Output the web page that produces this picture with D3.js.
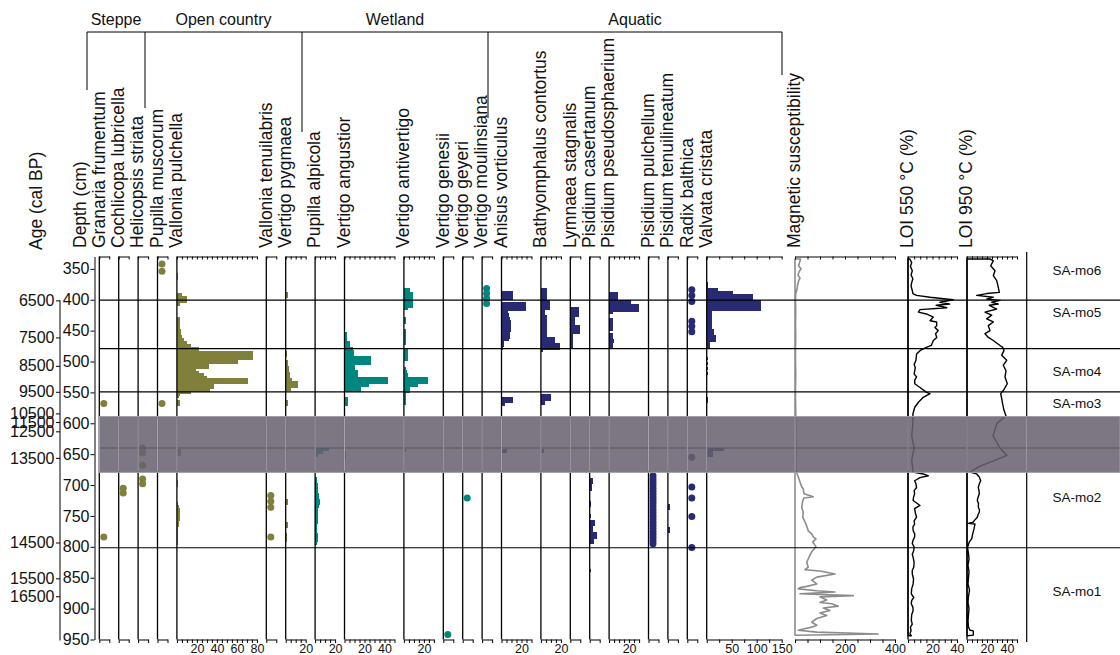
<!DOCTYPE html>
<html>
<head>
<meta charset="utf-8">
<script src="https://cdn.jsdelivr.net/npm/d3@7"></script>
<style>
  body { margin: 0; background: #fff; }
  text { font-family: "Liberation Sans", Arial, sans-serif; fill: #111; }
</style>
</head>
<body>
<div id="chart"></div>
<script>
// ---- data (depth in cm, values in % or counts) ----
var depthTicks = [350, 400, 450, 500, 550, 600, 650, 700, 750, 800, 850, 900, 950];
var ageLabels = ["6500", "7500", "8500", "9500", "10500", "11500", "12500", "13500", "14500", "15500", "16500"];
var ageDepths = [401, 461, 507, 549, 584, 598, 613, 656, 793, 851, 880];

var zoneBounds = [400.5, 479, 549, 640, 801.5];
var zoneNames = ["SA-mo6", "SA-mo5", "SA-mo4", "SA-mo3", "SA-mo2", "SA-mo1"];
var zoneLabelDepths = [352, 421, 515, 568, 720, 872];
var hiatus = [589, 679.5];

var groupNames = ["Steppe", "Open country", "Wetland", "Aquatic"];

// presence dots: depths only
var granariaFrumentum = [568, 784];
var cochlicopaLubricella = [705, 713];
var helicopsisStriata = [640, 648, 668, 690, 698];
var pupillaMuscorum = [342, 354, 568];
var valloniaTenuilabris = [717, 726, 736, 784];
var vertigoGenesii = [942];
var vertigoGeyeri = [721];
var vertigoMoulinsiana = [382, 390, 398, 406];
var pisidiumPulchellum = [685, 690, 695, 700, 705, 710, 715, 720, 725, 730, 735, 740, 745, 750, 755, 760, 765, 770, 775, 780, 785, 790, 795];
var radixBalthica = [384, 393, 403, 435, 443, 452, 655, 703, 721, 751, 801];

// bars: [depth, value]
var valloniaPulchella = [[360, 1.5], [365, 1.5], [392, 5], [397, 10], [402, 10], [407, 3], [430, 3], [435, 3], [440, 3],
  [445, 3], [450, 4], [455, 4], [460, 5], [465, 7], [470, 10], [475, 14], [480, 22], [485, 76], [490, 76], [494, 76],
  [498, 61], [502, 61], [506, 32], [510, 32], [514, 19], [518, 22], [522, 27], [526, 30], [530, 71], [534, 71],
  [538, 37], [542, 37], [546, 33], [549, 14], [553, 3], [557, 2], [565, 3.5], [570, 3.5], [645, 4], [650, 4],
  [695, 1.5], [700, 1.5], [730, 1.5], [735, 2], [740, 3.5], [745, 3.5], [750, 3.5], [755, 3.5], [760, 2], [765, 2],
  [770, 1.5], [775, 1.5], [780, 1.5], [785, 1.5], [790, 1.5], [795, 1.5]];
var vertigoPygmaea = [[390, 2.5], [395, 2.5], [485, 1.5], [490, 1.5], [500, 2], [505, 2.5], [510, 3], [515, 3.5],
  [520, 4], [525, 4.5], [530, 6], [535, 12.5], [540, 12.5], [545, 5], [565, 2], [570, 2], [642, 1], [725, 2.5],
  [730, 2.5], [762, 2], [767, 2], [780, 1.5], [785, 1.5], [790, 1.5]];
var pupillaAlpicola = [[642, 14], [647, 8], [652, 3], [690, 2], [695, 2], [700, 2.5], [705, 2.5], [710, 3], [715, 3.5],
  [720, 4], [725, 5], [730, 5], [735, 4], [740, 3], [745, 2.5], [750, 2.5], [755, 2.5], [760, 2.5], [765, 2],
  [770, 2], [775, 2], [780, 2.5], [785, 3], [790, 3], [795, 2]];
var vertigoAngustior = [[455, 2.3], [460, 2.3], [465, 2.3], [470, 5], [475, 5], [479, 8], [484, 9], [489, 9],
  [494, 26], [499, 26], [503, 26], [507, 10.7], [512, 10.7], [517, 13], [522, 13], [528, 43], [533, 43], [538, 24],
  [543, 16], [546, 16], [560, 3], [565, 3], [570, 3], [650, 1.5], [655, 1.5]];
var vertigoAntivertigo = [[384, 5.7], [390, 9], [395, 9], [400, 9], [405, 9], [410, 9], [414, 4], [430, 1.7], [436, 1.7],
  [450, 2.4], [455, 2.4], [460, 2.4], [465, 2.4], [470, 2.4], [482, 4], [487, 4], [492, 4], [497, 4], [512, 2],
  [517, 3], [522, 4], [528, 24], [533, 24], [538, 14], [544, 5.7], [548, 5.7], [553, 1.7], [558, 1.7], [563, 1.7],
  [568, 1.7], [643, 2]];
var anisusVorticulus = [[388, 11], [393, 11], [398, 11], [406, 24.3], [411, 24.3], [415, 24.3], [420, 6.7], [425, 7],
  [430, 8.3], [435, 9], [440, 9.5], [445, 9.5], [450, 9], [455, 8.3], [460, 8], [464, 7], [469, 2.3], [474, 2.3],
  [479, 1.5], [560, 11], [564, 11], [569, 3], [645, 5]];
var bathyomphalusContortus = [[384, 6], [389, 6], [394, 6], [398, 6], [403, 9.4], [408, 9.4], [413, 9.4], [418, 3.7],
  [423, 3.7], [428, 6], [433, 6], [438, 6], [443, 6], [448, 6], [453, 6], [458, 6], [463, 13.7], [468, 13.7],
  [473, 18.7], [478, 18.7], [481, 2], [556, 10.4], [561, 10.4], [567, 3.7], [645, 3]];
var lymnaeaStagnalis = [[385, 1], [390, 1], [395, 1], [400, 1], [405, 1], [415, 9], [420, 9], [425, 9], [430, 4.7],
  [435, 4.7], [440, 4.7], [444, 9.7], [449, 9.7], [453, 9.7], [457, 3], [461, 3], [465, 2.4], [470, 2.4], [475, 2.4],
  [488, 1], [496, 1], [504, 1], [511, 1]];
var pisidiumCasertanum = [[692, 3.7], [696, 3.7], [701, 2.3], [706, 2.3], [729, 1.3], [733, 1.3], [750, 1], [759, 5.7],
  [764, 5.7], [769, 3.7], [774, 3.7], [779, 7], [784, 7], [788, 4.5], [792, 4.5], [838, 1]];
var pisidiumPseudosphaerium = [[390, 9], [395, 9], [400, 9], [404, 21.4], [409, 30], [413, 30], [417, 30], [420, 4],
  [433, 3.4], [438, 3.4], [443, 3.4], [447, 3.4], [457, 4], [462, 4], [467, 4.5], [472, 4], [477, 3.5]];
var pisidiumTenuilineatum = [[733, 2.5], [737, 2.5], [770, 2.5], [774, 2.5]];
var valvataCristata = [[374, 2], [378, 2], [383, 23], [388, 53], [393, 92], [398, 92], [403, 108], [408, 108],
  [413, 108], [416, 108], [420, 10], [425, 10], [430, 11], [435, 11], [440, 11], [445, 11], [450, 14.7], [455, 14.7],
  [460, 19.3], [465, 19.3], [471, 7.3], [476, 7.3], [495, 2], [503, 2], [511, 2], [519, 2], [560, 2.7], [565, 2.7],
  [642, 35], [648, 12], [652, 12]];

// continuous curves: [depth, value]
var magSus = [[334, 22], [340, 18], [345, 14], [350, 24], [355, 16], [360, 12], [365, 20], [370, 14], [377, 10],
  [383, 8], [390, 3], [400, 2], [420, 3], [440, 2], [460, 3], [480, 2], [500, 2], [520, 3], [540, 2], [560, 2],
  [580, 3], [600, 4], [620, 3], [640, 5], [660, 3], [675, 4], [680, 7], [687, 13], [695, 20], [703, 27], [706, 33],
  [714, 36], [719, 73], [721, 36], [725, 31], [736, 27], [744, 33], [752, 31], [763, 44], [774, 53], [779, 67],
  [784, 73], [787, 84], [792, 71], [800, 84], [808, 67], [816, 57], [825, 47], [833, 53], [837, 40], [839, 100],
  [844, 160], [849, 87], [854, 67], [860, 87], [864, 47], [866, 20], [868, 13], [871, 87], [873, 160], [876, 20],
  [879, 233], [881, 100], [886, 127], [890, 100], [892, 147], [896, 173], [899, 113], [903, 140], [907, 100],
  [911, 127], [916, 87], [922, 67], [927, 87], [930, 67], [933, 33], [935, 13], [938, 87], [941, 333], [943, 7]];
var loi550 = [[334, 1.5], [340, 3], [346, 2], [353, 3.5], [360, 2.5], [366, 4], [372, 3], [378, 2.5], [385, 3.5],
  [390, 4], [393, 7], [396, 18], [400, 37], [404, 26], [407, 34], [409, 23], [413, 31.6], [416, 9.8], [420, 8.5],
  [423, 15], [428, 20.7], [434, 18], [436, 23.4], [442, 23.4], [445, 22], [450, 24.7], [455, 22.5], [461, 23.5],
  [466, 20.7], [474, 19], [477, 15], [482, 10], [488, 7], [498, 6.5], [505, 5], [510, 6], [515, 5.5], [520, 5],
  [525, 7], [530, 5.5], [536, 5.5], [542, 9.8], [550, 15.2], [552, 18], [558, 12.5], [566, 8.5], [574, 5.5],
  [585, 4], [600, 4], [620, 3], [640, 5], [660, 3], [675, 4], [679, 4], [682, 12.5], [685, 16.6], [688, 9.8],
  [693, 5.4], [698, 6.5], [704, 7], [709, 5], [714, 5.4], [720, 4.5], [725, 4.2], [729, 7], [733, 9.8], [738, 5.4],
  [745, 6], [752, 7], [758, 5], [763, 5.4], [768, 4], [774, 4.2], [779, 5.5], [784, 5.4], [790, 4], [795, 3.5],
  [800, 5], [806, 4.7], [812, 3.5], [817, 4.2], [825, 5], [833, 4.7], [838, 3.5], [844, 3.5], [852, 4.5], [860, 4.2],
  [868, 3], [876, 2.7], [882, 4.7], [887, 3], [892, 2.7], [898, 4], [903, 4.2], [910, 3], [919, 2.7], [925, 3.5],
  [930, 2], [936, 2.5], [941, 1.5], [944, 2.7]];
var loi950 = [[334, 23], [337, 26.3], [345, 23.7], [353, 28], [361, 26.3], [369, 29.7], [380, 31.3], [388, 32.3],
  [390, 19.7], [393, 9.7], [396, 26.3], [399, 19.7], [401, 33], [404, 24.7], [407, 31.3], [409, 22.3], [415, 29.7],
  [420, 18], [425, 24.7], [431, 19.7], [436, 26.3], [442, 21.3], [450, 23], [455, 18], [461, 21.3], [466, 26.3],
  [474, 33], [477, 35.7], [482, 37], [490, 34.7], [498, 39.7], [506, 36.3], [515, 39], [525, 38], [536, 40.3],
  [547, 36.3], [552, 33.7], [560, 34.7], [569, 35.7], [579, 37], [588, 39], [600, 30], [620, 26], [640, 33],
  [652, 40], [670, 12], [679, 3], [682, 9.7], [687, 12.3], [693, 13.7], [698, 12.3], [704, 11.3], [709, 12],
  [714, 12.3], [720, 11], [725, 10.3], [730, 11.5], [736, 11.3], [740, 12.5], [744, 12.3], [748, 11], [752, 10.3],
  [758, 7], [760, 6.3], [762, 1.3], [763, 8], [771, 7], [779, 5.7], [787, 4.7], [792, 2.3], [801, 0.5], [811, 1.5],
  [820, 2], [830, 1], [840, 2], [850, 1.5], [860, 1], [870, 2.5], [880, 1.5], [890, 1], [900, 2], [910, 1.5],
  [920, 1], [930, 1.5], [935, 3], [936, 6.3], [943, 6.3], [944, 0.5]];

// ---- layout ----
var olive = "#80803a", teal = "#00857f", navy = "#292a74";
var groupColors = [olive, olive, teal, navy];

var columns = [
  { name: "Granaria frumentum", type: "dot", data: granariaFrumentum, max: 10, group: 0 },
  { name: "Cochlicopa lubricella", type: "dot", data: cochlicopaLubricella, max: 10, group: 0 },
  { name: "Helicopsis striata", type: "dot", data: helicopsisStriata, max: 10, group: 0 },
  { name: "Pupilla muscorum", type: "dot", data: pupillaMuscorum, max: 10, group: 1 },
  { name: "Vallonia pulchella", type: "bar", data: valloniaPulchella, max: 80, group: 1, labels: [20, 40, 60, 80] },
  { name: "Vallonia tenuilabris", type: "dot", data: valloniaTenuilabris, max: 10, group: 1 },
  { name: "Vertigo pygmaea", type: "bar", data: vertigoPygmaea, max: 20, group: 1, labels: [20] },
  { name: "Pupilla alpicola", type: "bar", data: pupillaAlpicola, max: 20, group: 2, labels: [20] },
  { name: "Vertigo angustior", type: "bar", data: vertigoAngustior, max: 50, group: 2, labels: [20, 40] },
  { name: "Vertigo antivertigo", type: "bar", data: vertigoAntivertigo, max: 30, group: 2, labels: [20] },
  { name: "Vertigo genesii", type: "dot", data: vertigoGenesii, max: 10, group: 2 },
  { name: "Vertigo geyeri", type: "dot", data: vertigoGeyeri, max: 10, group: 2 },
  { name: "Vertigo moulinsiana", type: "dot", data: vertigoMoulinsiana, max: 10, group: 2 },
  { name: "Anisus vorticulus", type: "bar", data: anisusVorticulus, max: 30, group: 3, labels: [20] },
  { name: "Bathyomphalus contortus", type: "bar", data: bathyomphalusContortus, max: 20, group: 3, labels: [20] },
  { name: "Lymnaea stagnalis", type: "bar", data: lymnaeaStagnalis, max: 10, group: 3 },
  { name: "Pisidium casertanum", type: "bar", data: pisidiumCasertanum, max: 10, group: 3 },
  { name: "Pisidium pseudosphaerium", type: "bar", data: pisidiumPseudosphaerium, max: 30, group: 3, labels: [20] },
  { name: "Pisidium pulchellum", type: "dot", data: pisidiumPulchellum, max: 10, group: 3 },
  { name: "Pisidium tenuilineatum", type: "bar", data: pisidiumTenuilineatum, max: 10, group: 3 },
  { name: "Radix balthica", type: "dot", data: radixBalthica, max: 10, group: 3 },
  { name: "Valvata cristata", type: "bar", data: valvataCristata, max: 150, ppu: 0.5, step: 25, group: 3, labels: [50, 100, 150] },
  { name: "Magnetic susceptibility", type: "curve", data: magSus, max: 400, ppu: 0.25, step: 50, gap: 13.3,
    labels: [200, 400], stroke: "#8c8c8c", noBaseline: true },
  { name: "LOI 550 °C (%)", type: "curve", data: loi550, max: 40, ppu: 1.225, step: 5, gap: 13, labels: [20, 40], stroke: "#000" },
  { name: "LOI 950 °C (%)", type: "curve", data: loi950, max: 50, ppu: 1, step: 5, gap: 10, labels: [20, 40], stroke: "#000" }
];

var plotTop = 256.5, plotBottom = 639.5;
var firstX = 99.3, speciesGap = 9.4, zoneColX = 1026.7, rightEdge = 1120;

var svg = d3.select("#chart").append("svg").attr("width", 1120).attr("height", 655);

var y = d3.scaleLinear().domain([330, 950]).range([plotTop, plotBottom]);

// place columns
var cursor = firstX;
columns.forEach(function (c, i) {
  if (i > 0) cursor += (c.gap || speciesGap);
  c.x0 = cursor;
  cursor = c.x0 + c.max * (c.ppu || 1);
  c.x = d3.scaleLinear().domain([0, c.max]).range([c.x0, cursor]);
});

var dataLayer = svg.append("g");

columns.forEach(function (c) {
  var color = c.group !== undefined ? groupColors[c.group] : c.stroke;
  var g = dataLayer.append("g");

  if (c.type === "bar") {
    g.selectAll("rect")
      .data(c.data)
      .join("rect")
      .attr("x", c.x(0))
      .attr("y", (d) => y(d[0] - 2.8))
      .attr("width", (d) => c.x(d[1]) - c.x(0))
      .attr("height", (d) => y(d[0] + 2.8) - y(d[0] - 2.8))
      .attr("fill", color)
      .attr("shape-rendering", "crispEdges");
  } else if (c.type === "dot") {
    g.selectAll("circle")
      .data(c.data)
      .join("circle")
      .attr("cx", c.x(4.5))
      .attr("cy", (d) => y(d))
      .attr("r", 3.5)
      .attr("fill", color);
  } else {
    g.append("path")
      .datum(c.data)
      .attr("d", d3.area()
        .x0(c.x(0))
        .x1((d) => c.x(d[1]))
        .y((d) => y(d[0])))
      .attr("fill", "none")
      .attr("stroke", color)
      .attr("stroke-width", c.stroke === "#000" ? 1.4 : 1.6)
      .attr("stroke-linejoin", "round");
  }

  if (!c.noBaseline) {
    g.append("line")
      .attr("x1", c.x0).attr("x2", c.x0)
      .attr("y1", plotTop).attr("y2", plotBottom)
      .attr("stroke", "#000").attr("stroke-width", 1.3);
  }

  var step = c.step || (c.max === 10 ? 10 : 5);
  var ticks = d3.range(0, c.max + 0.001, step);
  var labels = c.labels || [];

  svg.append("g")
    .attr("transform", "translate(0," + plotTop + ")")
    .call(d3.axisTop(c.x).tickValues(ticks).tickSizeInner(-3).tickSizeOuter(0).tickFormat(""));

  svg.append("g")
    .attr("transform", "translate(0," + plotBottom + ")")
    .call(d3.axisBottom(c.x).tickValues(ticks).tickSizeInner(3.5).tickSizeOuter(0).tickPadding(1)
      .tickFormat((d) => (labels.indexOf(d) >= 0 ? d : "")))
    .attr("font-family", null)
    .selectAll("text")
    .style("font-size", "12.5px");

  svg.append("text")
    .attr("transform", "translate(" + (c.x0 + 5.3) + ",248) rotate(-90)")
    .style("font-size", "17.5px")
    .text(c.name);
});

// zone boundaries
svg.append("g")
  .selectAll("line")
  .data(zoneBounds)
  .join("line")
  .attr("x1", firstX).attr("x2", rightEdge)
  .attr("y1", (d) => y(d)).attr("y2", (d) => y(d))
  .attr("stroke", "#000").attr("stroke-width", 1.2);

svg.append("line")
  .attr("x1", zoneColX).attr("x2", zoneColX)
  .attr("y1", 252).attr("y2", 642)
  .attr("stroke", "#000").attr("stroke-width", 1.2);

// hiatus band
svg.append("rect")
  .attr("x", firstX).attr("width", rightEdge - firstX)
  .attr("y", y(hiatus[0])).attr("height", y(hiatus[1]) - y(hiatus[0]))
  .attr("fill", "#67616f").attr("fill-opacity", 0.86)
  .attr("stroke", "#a39fa9").attr("stroke-width", 1);

svg.append("g")
  .selectAll("line")
  .data(columns.map((c) => c.x0).concat([zoneColX]))
  .join("line")
  .attr("x1", (d) => d).attr("x2", (d) => d)
  .attr("y1", y(hiatus[0]) + 1).attr("y2", y(hiatus[1]) - 1)
  .attr("stroke", "#a8a4ae").attr("stroke-width", 1);

// zone labels
svg.append("g")
  .selectAll("text")
  .data(zoneNames)
  .join("text")
  .attr("x", 1077)
  .attr("y", (d, i) => y(zoneLabelDepths[i]))
  .attr("dy", "0.35em")
  .attr("text-anchor", "middle")
  .style("font-size", "13.5px")
  .text((d) => d);

// depth axis
svg.append("g")
  .attr("transform", "translate(94.5,0)")
  .call(d3.axisLeft(y).tickValues(depthTicks).tickSizeInner(4).tickSizeOuter(0).tickPadding(1))
  .attr("font-family", null)
  .selectAll("text")
  .style("font-size", "16px");

// age axis
svg.append("g")
  .attr("transform", "translate(60,0)")
  .call(d3.axisLeft(y).tickValues(ageDepths).tickSizeInner(4).tickSizeOuter(0).tickPadding(1.5)
    .tickFormat((d, i) => ageLabels[i]))
  .call((g) => g.select(".domain").remove())
  .attr("font-family", null)
  .selectAll("text")
  .style("font-size", "16px");

svg.append("line")
  .attr("x1", 60).attr("x2", 60)
  .attr("y1", y(ageDepths[0])).attr("y2", plotBottom + 1)
  .attr("stroke", "#000");

svg.append("text")
  .attr("transform", "translate(85.5,248) rotate(-90)")
  .style("font-size", "17.5px")
  .text("Depth (cm)");

svg.append("text")
  .attr("transform", "translate(42,250) rotate(-90)")
  .style("font-size", "17.5px")
  .text("Age (cal BP)");

// ecological group bracket
var bracketX = [87, 145, 302, 488, 782];
var bracketEnd = [90, 108, 132, 118, 75];
var bracketY = 32;

svg.append("line")
  .attr("x1", bracketX[0]).attr("x2", bracketX[bracketX.length - 1])
  .attr("y1", bracketY).attr("y2", bracketY)
  .attr("stroke", "#000");

svg.append("g")
  .selectAll("line")
  .data(bracketX)
  .join("line")
  .attr("x1", (d) => d).attr("x2", (d) => d)
  .attr("y1", bracketY).attr("y2", (d, i) => bracketEnd[i])
  .attr("stroke", "#000");

svg.append("g")
  .selectAll("text")
  .data(groupNames)
  .join("text")
  .attr("x", (d, i) => (bracketX[i] + bracketX[i + 1]) / 2)
  .attr("y", 24.5)
  .attr("text-anchor", "middle")
  .style("font-size", "16px")
  .text((d) => d);
</script>
</body>
</html>
